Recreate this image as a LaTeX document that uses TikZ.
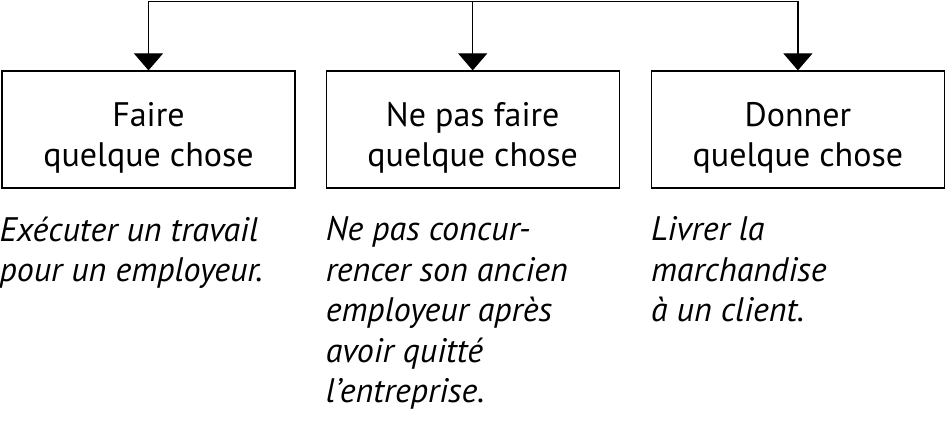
\documentclass[tikz,border=0pt]{standalone}
\usepackage{fontspec}
\setmainfont{PT Sans}
\usepackage{tikz}
\usetikzlibrary{positioning, calc, arrows.meta}
\tikzstyle{arrow} = [line width=1.2pt,-{Triangle[width=29pt,length=17pt]}]
\tikzstyle{kind} = [draw, line width=1.2pt, minimum width=293pt, minimum height=117pt, align=center, font=\fontsize{34}{40}\selectfont, inner sep=0pt]
\tikzstyle{example} = [anchor=north west, align=left, font=\fontsize{34}{40.5}\selectfont\itshape, inner sep=0pt]
\newcommand{\kindgap}{\rule{0pt}{40pt}}

\begin{document}
\begin{tikzpicture}[x=1pt,y=-1pt]
	\useasboundingbox (0,0) rectangle (945,443);
	
	\node[kind] (faire) at (148.5,129.5) {\kindgap Faire\\quelque chose};
	\node[kind, right=30pt of faire] (nepas) {\kindgap Ne pas faire\\quelque chose};
	\node[kind, right=31pt of nepas] (donner) {\kindgap Donner\\quelque chose};
	
	\coordinate (top) at (0,1.5);
	\coordinate (t1) at (faire.north |- top);
	\coordinate (t2) at (nepas.north |- top);
	\coordinate (t3) at (donner.north |- top);
	
	\draw[line width=1.2pt] (t1) -- (t2) -- (t3);
	\draw[arrow] (t1) -- (faire.north);
	\draw[arrow] (t2) -- (nepas.north);
	\draw[arrow] (t3) -- (donner.north);
	
	\node[example] (exfaire) at ($ (faire.south west) + (-2,28) $) {Exécuter un travail\\pour un employeur.};
	\node[example] (exnepas) at ($ (nepas.south west) + (0,28) $) {Ne pas concur-\\rencer son ancien\\employeur après\\avoir quitté\\l’entreprise.};
	\node[example] (exdonner) at ($ (donner.south west) + (0,28) $) {Livrer la\\marchandise\\à un client.};
	
\end{tikzpicture}
\end{document}
